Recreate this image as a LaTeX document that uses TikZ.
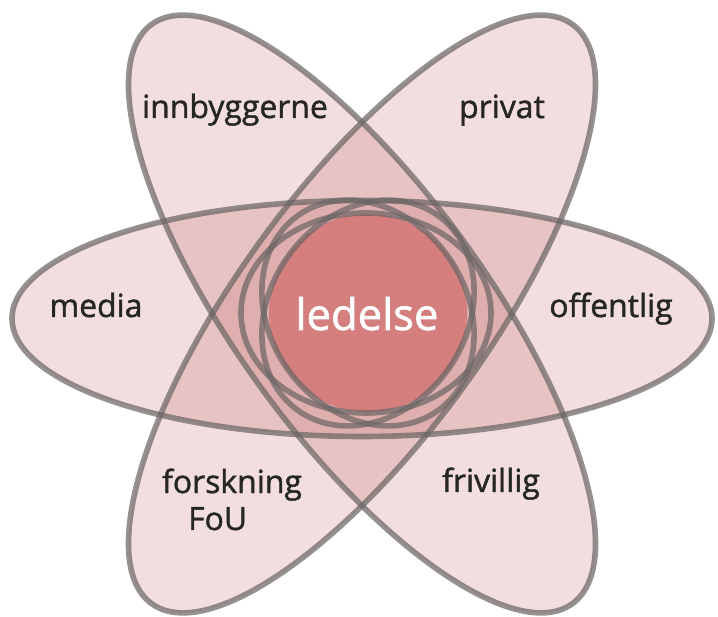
\documentclass[tikz,border=0pt]{standalone}
\usepackage{fontspec}
\setmainfont{Open Sans}
\newfontfamily\feltfont{Open Sans}[FakeBold=1.3]
\usetikzlibrary{positioning}
\definecolor{ovalred}{RGB}{190,90,90}
\definecolor{kjernerod}{RGB}{212,127,125}
\definecolor{kant}{RGB}{108,102,102}
\definecolor{tekst}{RGB}{38,38,34}
\tikzset{
  oval/.style={fill=ovalred,fill opacity=0.2},
  kantlinje/.style={draw=kant,draw opacity=0.72,line width=4pt},
  felt/.style={text=tekst,font=\feltfont\fontsize{22.7}{26.3}\selectfont,anchor=base,inner sep=0pt},
  kjerne/.style={text=white,font=\feltfont\fontsize{31}{36}\selectfont,anchor=base,inner sep=0pt}
}
\begin{document}
\begin{tikzpicture}[x=0.025cm,y=0.025cm]
\useasboundingbox (0,0) rectangle (718,617);
%Mitte der Ellipsen (Pixel, y nach oben)
  \pgfmathsetmacro{\cx}{362}
  \pgfmathsetmacro{\cy}{303}
  \pgfmathsetmacro{\hy}{298.5}
%flache Ellipse waagrecht, die zwei schraegen etwas laenger
  \pgfmathsetmacro{\aH}{350}
  \pgfmathsetmacro{\bH}{118}
  \pgfmathsetmacro{\aS}{358}
  \pgfmathsetmacro{\bS}{125}
%Flaechen
\fill[oval] (\cx,\hy) ellipse [x radius=\aH, y radius=\bH];
\foreach \w in {54,-54}{
\fill[oval,shift={(\cx,\cy)},rotate=\w] (0,0) ellipse [x radius=\aS, y radius=\bS];
}
\fill[kjernerod] (368,304) circle [radius=99];
%Raender
\draw[kantlinje] (\cx,\hy) ellipse [x radius=\aH, y radius=\bH];
\foreach \w in {54,-54}{
\draw[kantlinje,shift={(\cx,\cy)},rotate=\w] (0,0) ellipse [x radius=\aS, y radius=\bS];
}
\draw[kantlinje] (366,304) ellipse [x radius=125, y radius=100];
\foreach \w in {54,-54}{
\draw[kantlinje,shift={(368,304)},rotate=\w] (0,0) ellipse [x radius=120, y radius=98];
}
%Texte
\node[kjerne] (ledelse) at (367,287) {ledelse};
\node[felt] (innbyggerne) at (235,499) {innbyggerne};
\node[felt] (privat) at (502,499) {privat};
\node[felt] (media) at (96,300) {media};
\node[felt] (offentlig) at (611,300) {offentlig};
\node[felt,align=center] (forskning) at (232,87) {forskning\\FoU\hspace*{0.9em}};
\node[felt] (frivillig) at (491,125) {frivillig};
\end{tikzpicture}
\end{document}
